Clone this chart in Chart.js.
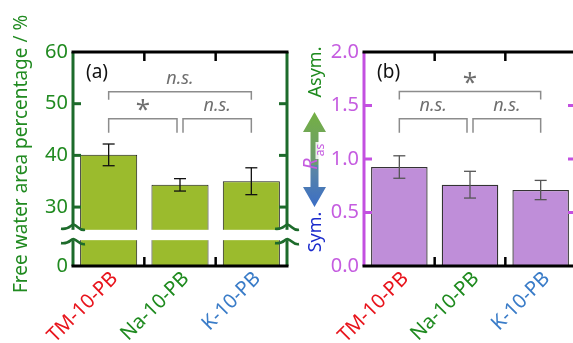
<!DOCTYPE html>
<html>
<head>
<meta charset="utf-8">
<script src="https://cdn.jsdelivr.net/npm/chart.js@4/dist/chart.umd.min.js"></script>
<style>
  body { margin: 0; background: #fff; }
  #wrap { position: relative; width: 573px; height: 343px; overflow: hidden; }
  canvas { position: absolute; top: 0; }
</style>
</head>
<body>
<div id="wrap">
  <canvas id="chartA" width="305" height="343" style="left:0"></canvas>
  <canvas id="chartB" width="290" height="343" style="left:295px"></canvas>
</div>
<script>
var categories = ['TM-10-PB', 'Na-10-PB', 'K-10-PB'];
var labelColors = ['#e8141c', '#1e8a1e', '#3a7cc8'];

var waterMean = [40.1, 34.3, 35.0];
var waterErr = [2.1, 1.2, 2.6];
var waterTicks = [0, 30, 40, 50, 60];

var rasMean = [0.925, 0.76, 0.71];
var rasErr = [0.105, 0.125, 0.09];
var rasTicks = [0, 0.5, 1.0, 1.5, 2.0];

var sigPairs = [[0, 2], [0, 1], [1, 2]];
var sigTextA = ['n.s.', '*', 'n.s.'];
var sigLevelA = [52.3, 47.1, 47.1];
var sigTextB = ['*', 'n.s.', 'n.s.'];
var sigLevelB = [1.63, 1.377, 1.377];

// broken axis: values above the break are shifted down
var SHIFT = 18.6;
function brk(v) { return v >= 25 ? v - SHIFT : v; }

var FONT = 'Noto Sans';
var green = '#208a20', greenAxis = '#1d6b2b';
var magenta = '#c55ce0', magentaAxis = '#c350e0';

function line(ctx, x1, y1, x2, y2) {
  ctx.beginPath(); ctx.moveTo(x1, y1); ctx.lineTo(x2, y2); ctx.stroke();
}

function extrasPlugin(o) {
  return {
    id: 'extras',
    afterDatasetsDraw(chart) {
      var ctx = chart.ctx, x = chart.scales.x, y = chart.scales.y;
      ctx.save();
      // error bars
      ctx.strokeStyle = o.errColor; ctx.lineWidth = 1.3;
      o.mean.forEach(function (m, i) {
        var px = x.getPixelForValue(i);
        var hi = y.getPixelForValue(o.map(m + o.err[i]));
        var lo = y.getPixelForValue(o.map(m - o.err[i]));
        line(ctx, px, hi, px, lo);
        line(ctx, px - 6, hi, px + 6, hi);
        line(ctx, px - 6, lo, px + 6, lo);
      });
      // significance brackets
      var legs = [8, 14, 14];
      sigPairs.forEach(function (p, k) {
        var x1 = x.getPixelForValue(p[0]), x2 = x.getPixelForValue(p[1]);
        if (p[0] === 1) x1 += 3;
        if (p[1] === 1) x2 -= 3;
        var py = y.getPixelForValue(o.map(o.levels[k]));
        ctx.strokeStyle = '#8c8c8c'; ctx.lineWidth = 1.5;
        ctx.beginPath();
        ctx.moveTo(x1, py + legs[k]); ctx.lineTo(x1, py); ctx.lineTo(x2, py); ctx.lineTo(x2, py + legs[k]);
        ctx.stroke();
        var t = o.texts[k];
        ctx.fillStyle = '#6f6f6f';
        ctx.textAlign = 'center'; ctx.textBaseline = 'middle';
        if (t === '*') {
          ctx.font = '26px "' + FONT + '"';
          ctx.fillText(t, (x1 + x2) / 2, py - 8);
        } else {
          ctx.font = 'italic 18px "' + FONT + '"';
          ctx.fillText(t, (x1 + x2) / 2, py - 13);
        }
      });
      ctx.restore();
    },
    afterDraw(chart) {
      var ctx = chart.ctx, a = chart.chartArea, x = chart.scales.x, y = chart.scales.y;
      ctx.save();
      ctx.lineWidth = 3;
      // side axes
      ctx.strokeStyle = o.axisColor;
      line(ctx, a.left, a.top, a.left, a.bottom);
      line(ctx, a.right, a.top, a.right, a.bottom);
      o.inner.forEach(function (v) {
        var py = y.getPixelForValue(o.map(v));
        line(ctx, a.left, py, a.left + 8, py);
        line(ctx, a.right - 8, py, a.right, py);
      });
      // top and bottom
      ctx.strokeStyle = '#000';
      line(ctx, a.left - 1.5, a.top, a.right + 1.5, a.top);
      line(ctx, a.left - 1.5, a.bottom, a.right + 1.5, a.bottom);
      ctx.lineWidth = 2.5;
      for (var i = 1; i < categories.length; i++) {
        var px = (x.getPixelForValue(i - 1) + x.getPixelForValue(i)) / 2;
        line(ctx, px, a.top, px, a.top + 9);
        line(ctx, px, a.bottom - 9, px, a.bottom);
      }
      if (o.band) {
        var b1 = y.getPixelForValue(o.band[1]), b0 = y.getPixelForValue(o.band[0]);
        ctx.fillStyle = '#fff';
        ctx.fillRect(a.left - 3, b1, a.right - a.left + 6, b0 - b1);
        ctx.strokeStyle = greenAxis; ctx.lineWidth = 2.6;
        [a.left, a.right].forEach(function (cx) {
          [b1 - 2, b0 + 2].forEach(function (cy) {
            ctx.beginPath();
            ctx.moveTo(cx - 12, cy + 1);
            ctx.bezierCurveTo(cx - 2, cy + 2, cx - 3, cy - 4, cx + 1, cy - 3);
            ctx.bezierCurveTo(cx + 5, cy - 2, cx + 6, cy + 3, cx + 12, cy + 2);
            ctx.stroke();
          });
        });
      }
      if (o.deco) o.deco(ctx);
      ctx.restore();
    }
  };
}

function drawRasDeco(ctx) {
  var cx = 19.5;
  // up arrow
  var g1 = ctx.createLinearGradient(0, 112, 0, 165);
  g1.addColorStop(0, '#74b043'); g1.addColorStop(1, '#6c9a72');
  ctx.fillStyle = g1;
  ctx.beginPath();
  ctx.moveTo(cx, 112); ctx.lineTo(cx + 11.5, 132); ctx.lineTo(cx + 4, 132); ctx.lineTo(cx + 4, 165);
  ctx.lineTo(cx - 4, 165); ctx.lineTo(cx - 4, 132); ctx.lineTo(cx - 11.5, 132); ctx.closePath();
  ctx.fill();
  // down arrow
  var g2 = ctx.createLinearGradient(0, 165, 0, 207);
  g2.addColorStop(0, '#5d88a2'); g2.addColorStop(1, '#3b6ec6');
  ctx.fillStyle = g2;
  ctx.beginPath();
  ctx.moveTo(cx - 4, 165); ctx.lineTo(cx + 4, 165); ctx.lineTo(cx + 4, 187); ctx.lineTo(cx + 11.5, 187);
  ctx.lineTo(cx, 207); ctx.lineTo(cx - 11.5, 187); ctx.lineTo(cx - 4, 187); ctx.closePath();
  ctx.fill();
  // texts
  function vtext(t, x0, y0, font, color) {
    ctx.save(); ctx.translate(x0, y0); ctx.rotate(-Math.PI / 2);
    ctx.font = font; ctx.fillStyle = color; ctx.textAlign = 'center'; ctx.textBaseline = 'middle';
    ctx.fillText(t, 0, 0); ctx.restore();
  }
  vtext('Asym.', 21, 72, '18px "' + FONT + '"', '#1e8a1e');
  vtext('Sym.', 21, 232, '18px "' + FONT + '"', '#1a2acc');
  ctx.fillStyle = 'rgba(255,255,255,0.85)';
  ctx.fillRect(cx + 1, 142, 10, 17);
  vtext('R', cx - 3, 164, 'italic 20px "' + FONT + '"', magenta);
  vtext('as', cx + 6, 150, '12px "' + FONT + '"', magenta);
}

function drawWaterTitle(ctx) {
  ctx.save();
  ctx.translate(22, 293); ctx.rotate(-Math.PI / 2);
  ctx.font = '19px "' + FONT + '"'; ctx.fillStyle = green;
  ctx.textAlign = 'left'; ctx.textBaseline = 'middle';
  ctx.fillText('Free water area percentage / %', 0, 0);
  ctx.restore();
}

function panelLabel(text) {
  return {
    id: 'panelLabel',
    afterDraw(chart) {
      var ctx = chart.ctx, a = chart.chartArea;
      ctx.save();
      ctx.font = '19px "' + FONT + '"'; ctx.fillStyle = '#111';
      ctx.textAlign = 'left'; ctx.textBaseline = 'middle';
      ctx.fillText(text, a.left + 13, 73);
      ctx.restore();
    }
  };
}

function xScale() {
  return {
    grid: { display: false, drawTicks: false },
    border: { display: false },
    ticks: {
      color: function (c) { return labelColors[c.index]; },
      font: { family: FONT, size: 20 },
      minRotation: 45, maxRotation: 45, padding: 1, labelOffset: 6
    },
    afterFit: function (s) { s.height = 77; }
  };
}

new Chart(document.getElementById('chartA'), {
  type: 'bar',
  data: {
    labels: categories,
    datasets: [{
      data: waterMean.map(brk),
      backgroundColor: '#9bbb2d', borderColor: '#1a1a1a', borderWidth: 1,
      barPercentage: 0.8, categoryPercentage: 1
    }]
  },
  options: {
    responsive: false, animation: false,
    layout: { padding: { top: 52, right: 18, left: 0, bottom: 0 } },
    plugins: { legend: { display: false }, tooltip: { enabled: false } },
    scales: {
      x: xScale(),
      y: {
        min: 0, max: brk(60),
        grid: { display: false, drawTicks: false },
        border: { display: false },
        afterBuildTicks: function (s) { s.ticks = waterTicks.map(function (v) { return { value: brk(v) }; }); },
        ticks: {
          callback: function (v, i) { return waterTicks[i]; },
          color: green, font: { family: FONT, size: 20 }, padding: 5
        },
        afterFit: function (s) { s.width = 73; }
      }
    }
  },
  plugins: [extrasPlugin({
    mean: waterMean, err: waterErr, map: brk, errColor: '#111',
    levels: sigLevelA, texts: sigTextA, axisColor: greenAxis,
    inner: [30, 40, 50], band: [5.0, 7.0], deco: drawWaterTitle
  }), panelLabel('(a)')]
});

new Chart(document.getElementById('chartB'), {
  type: 'bar',
  data: {
    labels: categories,
    datasets: [{
      data: rasMean,
      backgroundColor: '#bf8ed9', borderColor: '#333', borderWidth: 1.3,
      barPercentage: 0.8, categoryPercentage: 1
    }]
  },
  options: {
    responsive: false, animation: false,
    layout: { padding: { top: 52, right: 9, left: 0, bottom: 0 } },
    plugins: { legend: { display: false }, tooltip: { enabled: false } },
    scales: {
      x: xScale(),
      y: {
        min: 0, max: 2,
        grid: { display: false, drawTicks: false },
        border: { display: false },
        afterBuildTicks: function (s) { s.ticks = rasTicks.map(function (v) { return { value: v }; }); },
        ticks: {
          callback: function (v) { return v.toFixed(1); },
          color: magenta, font: { family: FONT, size: 20 }, padding: 5
        },
        afterFit: function (s) { s.width = 69; }
      }
    }
  },
  plugins: [extrasPlugin({
    mean: rasMean, err: rasErr, map: function (v) { return v; }, errColor: '#555',
    levels: sigLevelB, texts: sigTextB, axisColor: magentaAxis,
    inner: [0.5, 1.0, 1.5], band: null, deco: drawRasDeco
  }), panelLabel('(b)')]
});
</script>
</body>
</html>
